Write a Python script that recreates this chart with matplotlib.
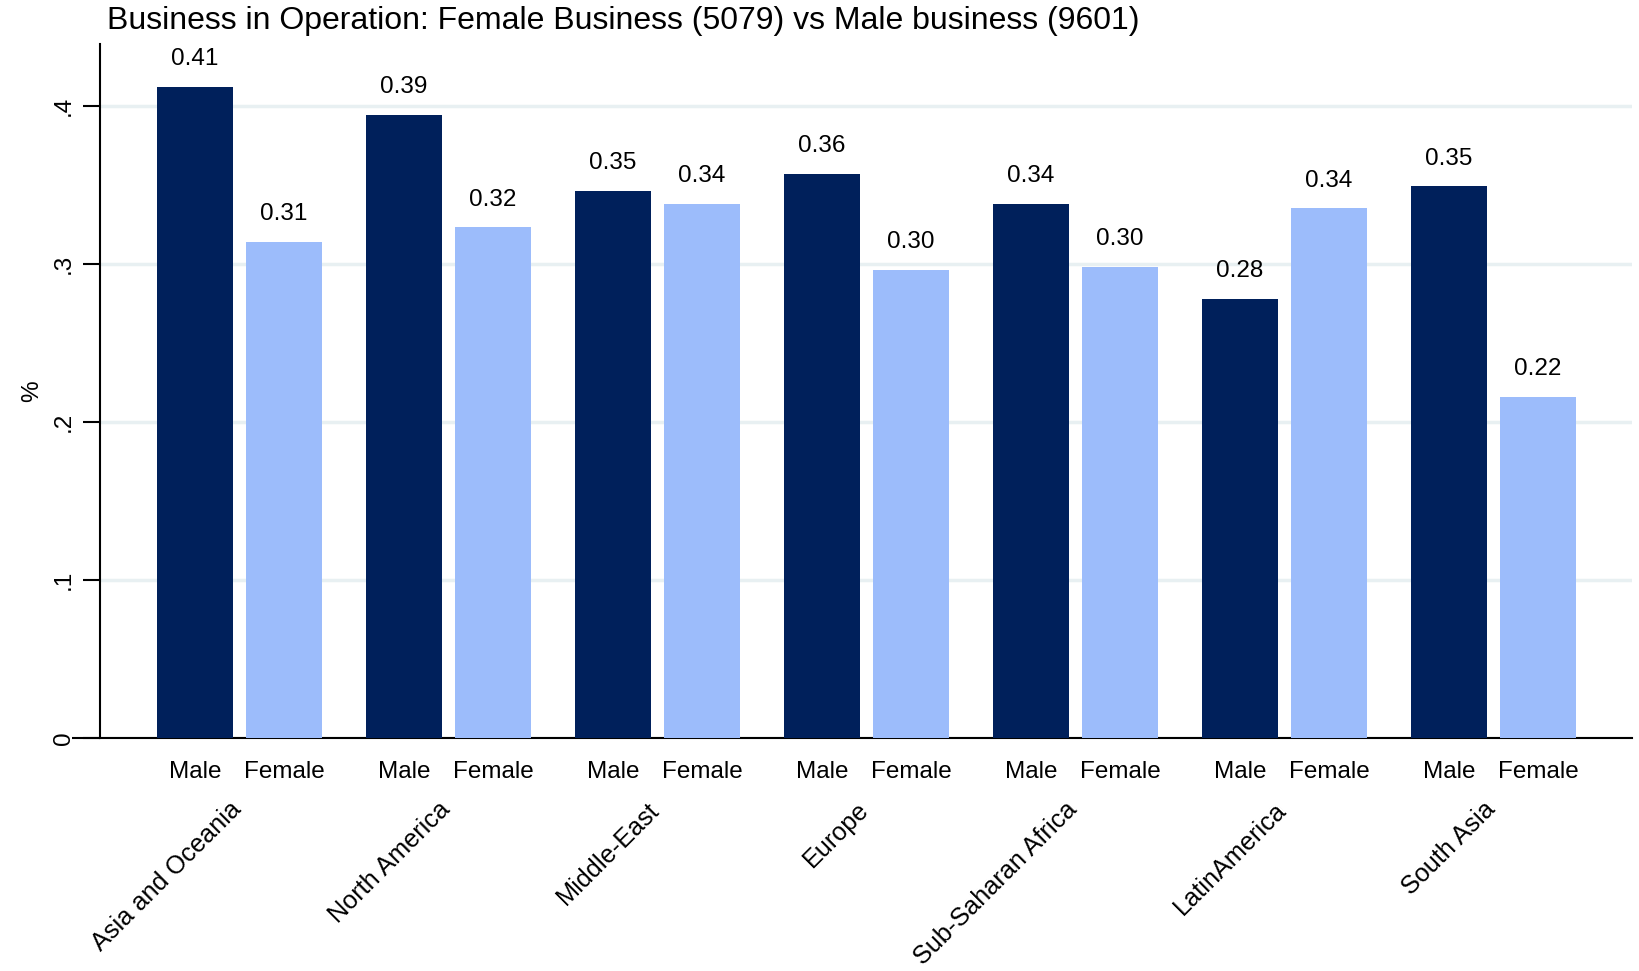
import numpy as np
import matplotlib
matplotlib.use("Agg")
import matplotlib.pyplot as plt
import matplotlib.transforms as mtransforms

plt.rcParams['font.family'] = ['Liberation Sans', 'DejaVu Sans']

regions = ["Asia and Oceania", "North America", "Middle-East", "Europe",
           "Sub-Saharan Africa", "LatinAmerica", "South Asia"]
male = [0.412, 0.394, 0.346, 0.357, 0.338, 0.278, 0.349]
female = [0.314, 0.323, 0.338, 0.296, 0.298, 0.335, 0.216]
yticks = [0, 0.1, 0.2, 0.3, 0.4]
ytick_labels = ["0", ".1", ".2", ".3", ".4"]

male_color = "#00205b"
female_color = "#9cbcfb"

fig = plt.figure(figsize=(16.4, 9.71), dpi=100)
ax = fig.add_axes([100/1640, 1 - 738/971, (1632-100)/1640, (738-44)/971])

x = np.arange(len(regions))
w = 0.364
off = 0.213
ax.bar(x - off, male, width=w, color=male_color, zorder=3)
ax.bar(x + off, female, width=w, color=female_color, zorder=3)

for xi, m, f in zip(x, male, female):
    ax.annotate(f"{m:.2f}", (xi - off, m), xytext=(0, 12), textcoords="offset points",
                ha="center", va="bottom", fontsize=17.5)
    ax.annotate(f"{f:.2f}", (xi + off, f), xytext=(0, 12), textcoords="offset points",
                ha="center", va="bottom", fontsize=17.5)

ax.set_xlim(-0.668, 6.662)
ax.set_ylim(0, 0.439)
ax.set_yticks(yticks)
ax.set_yticklabels(ytick_labels, rotation=90, va="center", fontsize=17.5)
ax.tick_params(axis="y", length=12, width=1.5, pad=6)
ax.set_xticks([])
ax.grid(axis="y", color="#e8f0f2", linewidth=2.5, zorder=0)
ax.set_axisbelow(True)

for s in ["top", "right"]:
    ax.spines[s].set_visible(False)
ax.spines["left"].set_linewidth(1.5)
ax.spines["bottom"].set_linewidth(1.5)
# x-axis line reaches out to the left past the tick marks
ax.plot([-0.018, 0], [0, 0], transform=ax.transAxes, color="black",
        linewidth=1.5, clip_on=False, solid_capstyle="butt")

trans = mtransforms.blended_transform_factory(ax.transData, ax.transAxes)
for xi in x:
    ax.text(xi - off, -0.049, "Male", transform=trans, ha="center", va="center", fontsize=17.5)
    ax.text(xi + off, -0.049, "Female", transform=trans, ha="center", va="center", fontsize=17.5)

for xi, name in zip(x, regions):
    ax.text(xi - 0.01, -0.098, name, transform=trans, rotation=45,
            rotation_mode="anchor", ha="right", va="center", fontsize=18.2)

ax.set_ylabel("%", fontsize=17.5)
ax.yaxis.set_label_coords(-0.037, 0.5)
fig.text(107/1640, 1 - 21/971, "Business in Operation: Female Business (5079) vs Male business (9601)",
         ha="left", va="center", fontsize=23)

fig.savefig("out.png", dpi=100)
